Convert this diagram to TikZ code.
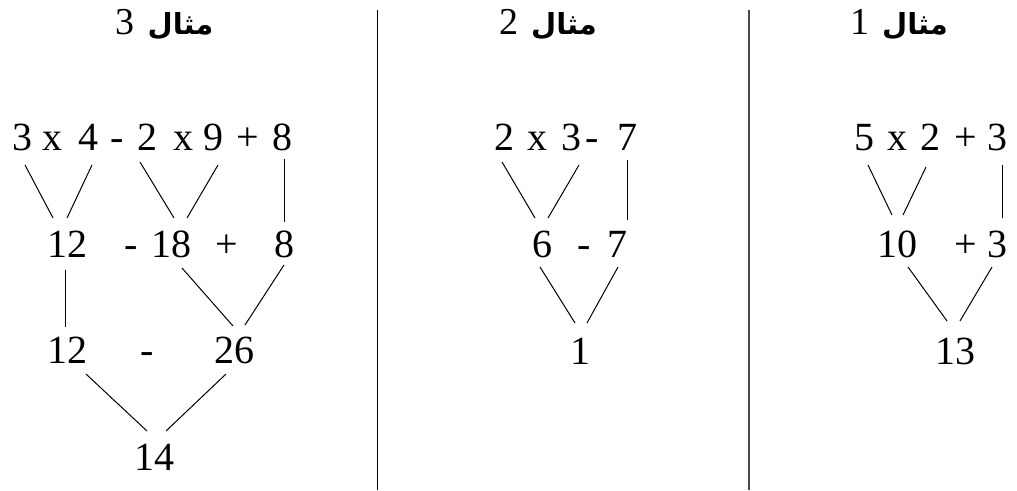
\documentclass[tikz,border=0pt]{standalone}
\usepackage{fontspec}
\setmainfont{Liberation Serif}
\newfontfamily\arabicfont[Script=Arabic]{DejaVu Sans}
\TeXXeTstate=1
\newcommand\tokfont{\fontsize{40}{41}\selectfont}
\newcommand\headdigit{\fontsize{38}{39}\selectfont}
\newcommand\headarab{\arabicfont\bfseries\fontsize{29}{31}\selectfont}
\tikzset{
  tok/.style={font=\tokfont, inner sep=0pt, anchor=base},
  head/.style={inner sep=0pt, anchor=base},
  conn/.style={line width=1pt, black},
  sepA/.style={line width=1.4pt, black},
  sepB/.style={line width=1.8pt, black!72},
}
\begin{document}
\begin{tikzpicture}[x=1pt,y=-1pt]
\useasboundingbox (0,0) rectangle (1017,490);
% separators
\coordinate (s1t) at (377.5,10); \coordinate (s1b) at (377.5,490);
\coordinate (s2t) at (749,10); \coordinate (s2b) at (749,490);
\draw[sepA] (s1t) -- (s1b);
\draw[sepB] (s2t) -- (s2b);
% headings
\node[head] (h3) at (164.5,34) {\beginR{\headarab مثال}\hspace{13pt}{\headdigit 3}\endR};
\node[head] (h2) at (548,34) {\beginR{\headarab مثال}\hspace{13pt}{\headdigit 2}\endR};
\node[head] (h1) at (899,34) {\beginR{\headarab مثال}\hspace{13pt}{\headdigit 1}\endR};
% ---------- panel 3 ----------
\node[tok] (a1) at (22.5,150) {3};
\node[tok] (a2) at (52,150) {x};
\node[tok] (a3) at (88,150) {4};
\node[tok] (a4) at (117,150) {-};
\node[tok] (a5) at (147,150) {2};
\node[tok] (a6) at (183,150) {x};
\node[tok] (a7) at (213,150) {9};
\node[tok] (a8) at (248,150) {+};
\node[tok] (a9) at (282,150) {8};
\node[tok] (b1) at (67,257) {12};
\node[tok] (b2) at (131,257) {-};
\node[tok] (b3) at (171,257) {18};
\node[tok] (b4) at (227,257) {+};
\node[tok] (b5) at (284,257) {8};
\node[tok] (c1) at (67,363) {12};
\node[tok] (c2) at (147,363) {-};
\node[tok] (c3) at (234,363) {26};
\node[tok] (d1) at (154,470) {14};
\draw[conn] ([shift={(2.5,15)}]a1.base) -- ([shift={(-14,-39)}]b1.base);
\draw[conn] ([shift={(4,15)}]a3.base) -- ([shift={(0,-39)}]b1.base);
\draw[conn] ([shift={(-7,12)}]a5.base) -- ([shift={(3,-39)}]b3.base);
\draw[conn] ([shift={(5,15)}]a7.base) -- ([shift={(16,-39)}]b3.base);
\draw[conn] ([shift={(2,9)}]a9.base) -- ([shift={(0,-35)}]b5.base);
\draw[conn] ([shift={(-2,13)}]b1.base) -- ([shift={(-2,-36)}]c1.base);
\draw[conn] ([shift={(11,11)}]b3.base) -- ([shift={(-1,-37)}]c3.base);
\draw[conn] ([shift={(0,8)}]b5.base) -- ([shift={(11,-38)}]c3.base);
\draw[conn] ([shift={(19,11)}]c1.base) -- ([shift={(-7,-39)}]d1.base);
\draw[conn] ([shift={(-8,11)}]c3.base) -- ([shift={(12,-39)}]d1.base);
% ---------- panel 2 ----------
\node[tok] (e1) at (504,150) {2};
\node[tok] (e2) at (537,150) {x};
\node[tok] (e3) at (571,150) {3};
\node[tok] (e4) at (592.5,150) {-};
\node[tok] (e5) at (627,150) {7};
\node[tok] (f1) at (542,257) {6};
\node[tok] (f2) at (584,257) {-};
\node[tok] (f3) at (617,257) {7};
\node[tok] (g1) at (580,364) {1};
\draw[conn] ([shift={(-2,12)}]e1.base) -- ([shift={(-7,-39)}]f1.base);
\draw[conn] ([shift={(8,15)}]e3.base) -- ([shift={(6,-39)}]f1.base);
\draw[conn] ([shift={(0,10)}]e5.base) -- ([shift={(10,-37)}]f3.base);
\draw[conn] ([shift={(-2,10)}]f1.base) -- ([shift={(-5,-41)}]g1.base);
\draw[conn] ([shift={(1,10)}]f3.base) -- ([shift={(7,-41)}]g1.base);
% ---------- panel 1 ----------
\node[tok] (p1) at (864,150) {5};
\node[tok] (p2) at (897,150) {x};
\node[tok] (p3) at (930,150) {2};
\node[tok] (p4) at (966,150) {+};
\node[tok] (p5) at (997,150) {3};
\node[tok] (q1) at (897,257) {10};
\node[tok] (q2) at (966,257) {+};
\node[tok] (q3) at (997,257) {3};
\node[tok] (r1) at (955,364) {13};
\draw[conn] ([shift={(4,15)}]p1.base) -- ([shift={(-5,-42)}]q1.base);
\draw[conn] ([shift={(-4,17)}]p3.base) -- ([shift={(6,-42)}]q1.base);
\draw[conn] ([shift={(5,15)}]p5.base) -- ([shift={(5,-39)}]q3.base);
\draw[conn] ([shift={(11,10)}]q1.base) -- ([shift={(-8,-43)}]r1.base);
\draw[conn] ([shift={(-5,10)}]q3.base) -- ([shift={(5,-43)}]r1.base);
\end{tikzpicture}
\end{document}
